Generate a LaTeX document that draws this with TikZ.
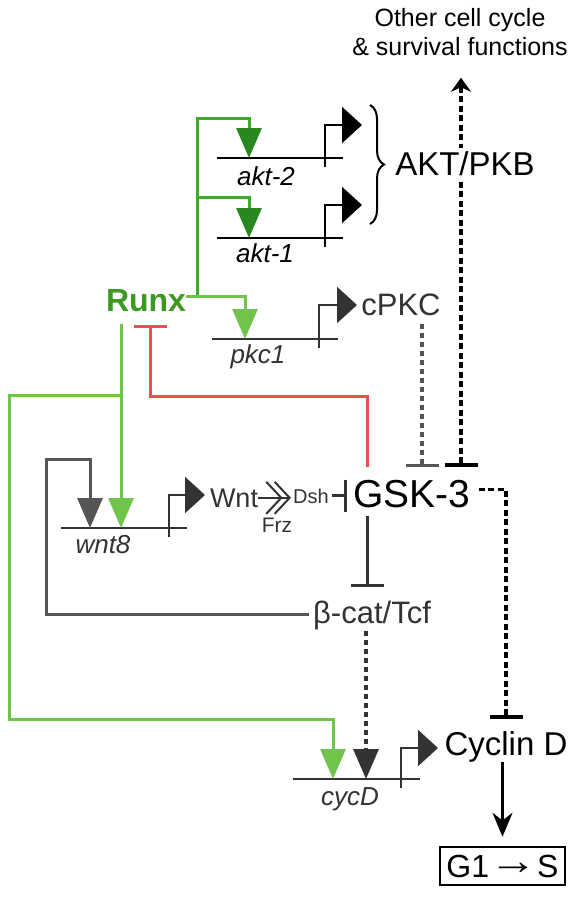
\documentclass[tikz,border=0pt]{standalone}
\usepackage{fontspec}
\setmainfont{Liberation Sans}
\usetikzlibrary{arrows.meta, decorations.pathreplacing}

\definecolor{runxgreen}{RGB}{60,154,32}
\definecolor{aktgreen}{RGB}{40,135,30}
\definecolor{linegreen}{RGB}{62,170,40}
\definecolor{lightgreen}{RGB}{112,196,76}
\definecolor{inhred}{RGB}{238,78,78}
\definecolor{genegray}{RGB}{51,51,51}
\definecolor{loopgray}{RGB}{85,85,85}

\begin{document}
\begin{tikzpicture}[
    x=1pt, y=-1pt,
    txt/.style={inner sep=0pt, anchor=base, font=\fontsize{31}{36}\selectfont, text=genegray},
    genelabel/.style={inner sep=0pt, anchor=base, font=\fontsize{26}{30}\selectfont\itshape, text=genegray},
    gene/.style={genegray, line width=2.2pt},
    promoter/.style={genegray, line width=2.2pt, -{Triangle[length=20pt,width=36pt]}},
    act/.style={line width=3pt, -{Triangle[length=30pt,width=25pt]}},
    aktact/.style={act, linegreen, -{Triangle[length=30pt,width=25pt,color=aktgreen]}},
    inh/.style={line width=3pt, -{Bar[width=33pt]}},
    dashline/.style={line width=3.4pt, dash pattern=on 5pt off 4pt},
    blackdash/.style={line width=3.6pt, dash pattern=on 6pt off 3.5pt}
]
    \useasboundingbox (0,0) rectangle (577,897);

    % text nodes
    \node [txt, text=black, font=\fontsize{25}{29}\selectfont, align=center, anchor=north] (other) at (460,8) {Other cell cycle\\\& survival functions};
    \node [txt, text=runxgreen, font=\fontsize{32}{36}\selectfont\bfseries] (runx) at (146,311) {Runx};
    \node [txt] (cpkc) at (401,315) {cPKC};
    \node [txt, font=\fontsize{27}{32}\selectfont] (wnt) at (234,507) {Wnt};
    \node [txt, font=\fontsize{20}{24}\selectfont] (dsh) at (311,503) {Dsh};
    \node [txt, font=\fontsize{21}{24}\selectfont] (frz) at (277,532) {Frz};
    \node [txt, text=black, font=\fontsize{39}{44}\selectfont] (gsk) at (412,507) {GSK-3};
    \node [txt] (bcat) at (372,623) {β-cat/Tcf};
    \node [txt, text=black, font=\fontsize{33}{38}\selectfont] (cycl) at (506,755) {Cyclin D};
    \node [draw, line width=2.5pt, inner sep=0pt, minimum width=125pt, minimum height=38pt, font=\fontsize{32}{36}\selectfont] (gs) at (502.5,866) {G1\raisebox{2.5pt}{\scalebox{1.5}[1.25]{→}}S};

    % gene labels
    \node [genelabel, text=black] (akt2lab) at (266,185) {akt-2};
    \node [genelabel, text=black] (akt1lab) at (265,262) {akt-1};
    \node [genelabel] (pkc1lab) at (258,363) {pkc1};
    \node [genelabel] (wnt8lab) at (103,553) {wnt8};
    \node [genelabel] (cycdlab) at (350,805) {cycD};

    % genes and promoters
    \draw [gene, black] (217,158) -- (343,158);
    \draw [promoter, black] (325,167) |- (362,125);
    \draw [gene, black] (217,238) -- (343,238);
    \draw [promoter, black] (325,247) |- (362,205);
    \draw [gene] (212,339) -- (338,339);
    \draw [promoter] (319,348) |- (357,305);
    \draw [gene] (61,528) -- (187,528);
    \draw [promoter] (169,537) |- (205,495);
    \draw [gene] (293,779) -- (420,779);
    \draw [promoter] (401,788) |- (438,748);

    % targets on the genes
    \coordinate (akt2g) at (249,158);
    \coordinate (akt1g) at (249,238);
    \coordinate (pkc1g) at (245,339);
    \coordinate (wnt8g) at (121,528);
    \coordinate (wnt8k) at (90,528);
    \coordinate (cycdg) at (333,779);
    \coordinate (cycdk) at (366,779);
    \coordinate (rj) at (197,296);
    \coordinate (redup) at (367,467);
    \coordinate (cpkcbar) at (422,467);
    \coordinate (aktbar) at (461,467);
    \coordinate (cycbar) at (506,719);

    % Runx inputs
    \draw [aktact] (rj) -- (197,118) -| (akt2g);
    \draw [aktact] (197,197) -| (akt1g);
    \draw [act, lightgreen] (runx.east |- rj) -| (pkc1g);
    \draw [act, lightgreen] ([yshift=-12pt]runx.south -| wnt8g) -- (wnt8g);
    \draw [act, lightgreen] (121,395) -| (9,719) -| (cycdg);

    % GSK-3 block of Runx
    \draw [inh, inhred] (redup) |- (150,396) -- (150,325);

    % beta-cat feedback to wnt8
    \draw [act, loopgray] ([xshift=-4pt]bcat.west) -| (46,459) -| (wnt8k);

    % Wnt pathway
    \draw [line width=2pt, genegray, -{Straight Barb[length=15pt,width=32pt,sep=-9pt] Straight Barb[length=15pt,width=32pt]}] (wnt.east) -- ([xshift=-2pt]wnt.east -| dsh.west);
    \draw [inh, genegray, -{Bar[width=32pt]}] ([xshift=3pt]dsh.east) -- ([xshift=-6pt]gsk.west |- dsh.east);
    \draw [inh, genegray] ([yshift=-8pt]gsk.south -| redup) -- ([yshift=13pt]bcat.north -| redup);
    \draw [act, genegray, dashline] ([yshift=-1pt]bcat.south -| cycdk) -- (cycdk);

    % dashed links round GSK-3
    \draw [inh, loopgray, dashline] ([yshift=-8pt]cpkc.south -| cpkcbar) -- (cpkcbar);
    \draw [inh, black, blackdash] ([xshift=8pt,yshift=4pt]gsk.east) -| (cycbar);
    \draw [black, blackdash, {Stealth[length=14pt,width=20pt]}-{Bar[width=33pt]}] ([yshift=-22pt]other.south -| aktbar) -- (aktbar);

    % Cyclin D to G1/S
    \draw [line width=2.8pt, -{Stealth[length=24pt,width=20pt]}] (cycl.south -| gs.north) -- ([yshift=9pt]gs.north);

    % AKT label over the dashed line
    \draw [line width=2pt, decorate, decoration={brace, amplitude=14pt}] (370,105) -- (370,224);
    \node [txt, text=black, font=\fontsize{33}{38}\selectfont, fill=white, inner sep=3pt] (akt) at (465,175) {AKT/PKB};
\end{tikzpicture}
\end{document}
